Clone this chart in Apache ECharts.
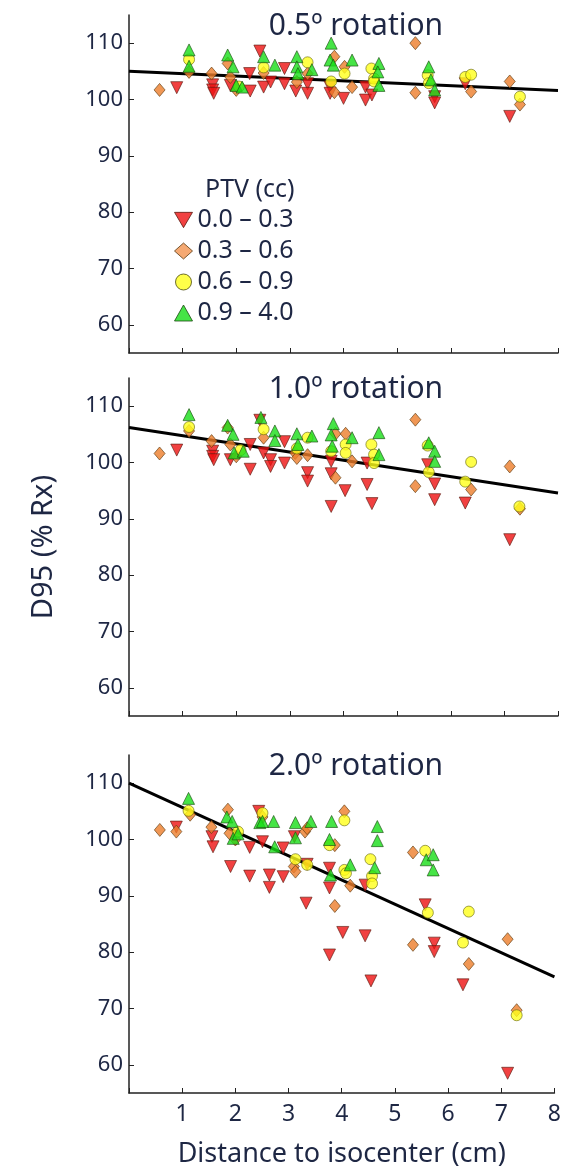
<!DOCTYPE html>
<html>
<head>
<meta charset="utf-8">
<script src="https://cdn.jsdelivr.net/npm/echarts@6/dist/echarts.min.js"></script>
<style>
	html, body { margin: 0; padding: 0; background: #fff; }
	#chart { width: 564px; height: 1171px; }
</style>
</head>
<body>
<div id="chart"></div>
<script>
// panel titles, legend names, ticks
var panelTitles = ['0.5º rotation', '1.0º rotation', '2.0º rotation'];
var ptvNames = ['0.0 – 0.3', '0.3 – 0.6', '0.6 – 0.9', '0.9 – 4.0'];
var yTicks = [60, 70, 80, 90, 100, 110];

// 0.5 deg rotation  [distance cm, D95 %Rx]
var rot05Red = [[0.89,102.1],[1.56,102.6],[1.56,101.7],[1.58,101.1],[1.89,102.5],[2.25,104.6],[2.26,101.5],[2.44,108.6],[2.51,102.2],[2.64,103.1],[2.90,105.5],[2.90,102.8],[3.11,101.5],[3.33,102.8],[3.33,101.1],[3.75,102.2],[3.75,101.1],[4.00,100.2],[4.41,102.2],[4.41,99.9],[4.53,100.8],[5.70,100.5],[5.70,99.4],[6.27,102.8],[7.10,97.0]];
var rot05Orange = [[0.57,101.7],[1.12,104.9],[1.54,104.6],[1.84,106.4],[1.89,104.0],[2.00,101.7],[2.51,104.7],[3.13,103.1],[3.33,104.6],[3.83,107.6],[3.83,101.3],[4.02,105.8],[4.16,102.2],[5.34,110.0],[5.34,101.2],[6.38,101.4],[7.10,103.2],[7.29,99.1]];
var rot05Yellow = [[1.12,107.1],[2.05,102.3],[2.51,105.7],[3.33,106.6],[3.77,103.2],[4.02,104.6],[4.52,105.5],[4.57,103.7],[4.57,103.2],[5.57,104.3],[5.59,102.9],[6.27,104.0],[6.38,104.4],[7.29,100.5]];
var rot05Green = [[1.12,108.8],[1.12,105.9],[1.84,107.9],[1.94,105.8],[2.00,102.5],[2.11,102.2],[2.51,107.6],[2.72,106.1],[3.13,107.6],[3.13,105.8],[3.15,104.6],[3.41,105.3],[3.77,110.0],[3.75,107.0],[3.81,106.1],[4.16,107.0],[4.66,106.4],[4.64,104.9],[4.66,102.5],[5.59,105.8],[5.63,103.5],[5.70,101.7]];
var rot05Fit = [[0, 105.0], [8, 101.6]];

// 1.0 deg rotation
var rot10Red = [[0.89,102.2],[1.56,102.0],[1.56,101.1],[1.58,100.5],[1.89,100.5],[2.26,103.2],[2.26,98.8],[2.44,107.5],[2.51,101.7],[2.64,100.5],[2.64,99.3],[2.90,103.7],[2.90,99.9],[3.33,98.2],[3.33,96.7],[3.77,100.2],[3.77,98.0],[3.77,92.2],[4.03,95.0],[4.44,99.9],[4.44,96.1],[4.53,92.7],[5.57,99.6],[5.70,96.2],[5.70,93.4],[6.27,92.8],[7.10,86.3]];
var rot10Orange = [[0.57,101.6],[1.12,105.6],[1.54,103.8],[1.84,106.2],[1.89,103.2],[2.00,101.1],[2.51,104.4],[3.10,101.7],[3.13,100.8],[3.33,101.3],[3.85,105.1],[3.85,97.3],[4.04,105.1],[4.16,100.2],[5.34,107.6],[5.34,95.8],[6.38,95.2],[7.10,99.3],[7.29,91.8]];
var rot10Yellow = [[1.12,106.3],[2.08,102.2],[2.51,105.9],[3.13,102.5],[3.33,104.4],[3.77,102.0],[4.04,103.2],[4.04,101.7],[4.52,103.2],[4.57,101.4],[4.57,99.9],[5.57,103.0],[5.59,98.3],[6.27,96.6],[6.38,100.1],[7.28,92.2]];
var rot10Green = [[1.12,108.5],[1.84,106.6],[1.94,105.0],[1.96,101.7],[2.13,102.0],[2.46,108.0],[2.72,105.6],[2.72,103.9],[3.13,105.1],[3.15,103.2],[3.41,104.7],[3.81,106.9],[3.77,104.9],[3.79,102.9],[4.16,104.4],[4.66,105.3],[4.66,101.4],[5.59,103.5],[5.70,102.0],[5.70,100.2]];
var rot10Fit = [[0, 106.2], [8, 94.6]];

// 2.0 deg rotation
var rot20Red = [[0.89,102.2],[1.56,100.5],[1.58,98.7],[1.91,95.2],[2.27,98.6],[2.27,93.5],[2.44,105.0],[2.51,99.6],[2.64,93.7],[2.64,91.5],[2.90,98.5],[2.90,93.4],[3.11,100.5],[3.35,95.6],[3.33,88.7],[3.77,94.9],[3.77,91.4],[3.77,79.5],[4.02,83.5],[4.44,91.9],[4.44,82.9],[4.55,74.9],[5.57,88.4],[5.74,81.6],[5.74,80.1],[6.28,74.2],[7.12,58.5]];
var rot20Orange = [[0.58,101.7],[0.89,101.4],[1.15,104.4],[1.55,102.2],[1.86,105.3],[1.89,101.1],[2.00,100.0],[2.51,104.0],[3.10,95.2],[3.13,94.3],[3.31,101.4],[3.35,102.0],[3.87,99.0],[3.87,88.2],[4.05,105.0],[4.16,91.8],[5.34,97.7],[5.34,81.3],[6.39,77.9],[7.12,82.3],[7.29,69.7]];
var rot20Yellow = [[1.12,105.1],[2.05,101.4],[2.51,104.7],[3.13,96.5],[3.35,95.5],[3.77,99.0],[4.05,103.4],[4.05,94.6],[4.08,94.0],[4.54,96.5],[4.57,93.5],[4.57,92.2],[5.57,98.0],[5.62,87.0],[6.28,81.7],[6.39,87.2],[7.29,68.8]];
var rot20Green = [[1.12,107.3],[1.84,104.0],[1.94,103.2],[1.96,100.2],[2.05,101.0],[2.46,103.0],[2.51,103.2],[2.72,103.2],[2.74,98.7],[3.13,103.0],[3.13,100.3],[3.42,103.2],[3.81,103.2],[3.77,100.0],[3.79,93.7],[4.16,95.5],[4.67,102.3],[4.67,99.8],[4.62,95.0],[5.59,96.4],[5.72,97.3],[5.72,94.6]];
var rot20Fit = [[0, 110.0], [8, 75.6]];

var panels = [
	{ red: rot05Red, orange: rot05Orange, yellow: rot05Yellow, green: rot05Green, fit: rot05Fit },
	{ red: rot10Red, orange: rot10Orange, yellow: rot10Yellow, green: rot10Green, fit: rot10Fit },
	{ red: rot20Red, orange: rot20Orange, yellow: rot20Yellow, green: rot20Green, fit: rot20Fit }
];

var FONT = 'Noto Sans';
var TXT = '#1e2744';
var gridTops = [15, 378, 755];
var gridH = 338;
var downTri = 'path://M0,0 L20,0 L10,17 Z';

var grids = [], xAxes = [], yAxes = [], series = [], titles = [];

panels.forEach(function (p, i) {
	grids.push({ left: 129, width: 429, top: gridTops[i], height: gridH });
	xAxes.push({
		gridIndex: i, type: 'value', min: 0, max: 8, interval: 1,
		name: i === 2 ? 'Distance to isocenter (cm)' : '',
		nameLocation: 'middle', nameGap: 48,
		nameTextStyle: { fontFamily: FONT, fontSize: 27, color: TXT },
		axisLine: { lineStyle: { color: '#222', width: 1.5 } },
		axisTick: { inside: true, length: 5, lineStyle: { color: '#222' } },
		axisLabel: { show: i === 2, fontFamily: FONT, fontSize: 23, color: TXT, margin: 10,
			formatter: function (v) { return v === 0 ? '' : v; } },
		splitLine: { show: false }
	});
	yAxes.push({
		gridIndex: i, type: 'value', min: 55, max: 115,
		name: i === 1 ? 'D95 (% Rx)' : '',
		nameLocation: 'middle', nameRotate: 90, nameGap: 71,
		nameTextStyle: { fontFamily: FONT, fontSize: 29, color: TXT },
		axisLine: { lineStyle: { color: '#222', width: 1.5 } },
		axisTick: { inside: true, length: 5, customValues: yTicks, lineStyle: { color: '#222' } },
		axisLabel: { fontFamily: FONT, fontSize: 22, color: TXT, margin: 6, customValues: yTicks },
		splitLine: { show: false }
	});
	titles.push({
		text: panelTitles[i], left: 351, top: gridTops[i] - 9, textAlign: 'center',
		textStyle: { fontFamily: FONT, fontSize: 30, fontWeight: 'normal', color: TXT }
	});

	series.push({
		type: 'line', xAxisIndex: i, yAxisIndex: i, data: p.fit, showSymbol: false,
		lineStyle: { color: '#000', width: 3 }, z: 1, silent: true
	});
	series.push({
		name: ptvNames[0], type: 'scatter', xAxisIndex: i, yAxisIndex: i, data: p.red,
		symbol: 'triangle', symbolRotate: 180, symbolSize: 12,
		itemStyle: { color: '#ee1111', borderColor: '#5a1a10', borderWidth: 0.8 }, z: 2
	});
	series.push({
		name: ptvNames[1], type: 'scatter', xAxisIndex: i, yAxisIndex: i, data: p.orange,
		symbol: 'diamond', symbolSize: [11, 13],
		itemStyle: { color: '#ec7d2a', borderColor: '#5a3a10', borderWidth: 0.8 }, z: 3
	});
	series.push({
		name: ptvNames[2], type: 'scatter', xAxisIndex: i, yAxisIndex: i, data: p.yellow,
		symbol: 'circle', symbolSize: 11,
		itemStyle: { color: '#ffff1a', borderColor: '#6a6a10', borderWidth: 0.8 }, z: 4
	});
	series.push({
		name: ptvNames[3], type: 'scatter', xAxisIndex: i, yAxisIndex: i, data: p.green,
		symbol: 'triangle', symbolSize: 12,
		itemStyle: { color: '#18dd18', borderColor: '#1a4a10', borderWidth: 0.8 }, z: 5
	});
});

// legend heading
titles.push({
	text: 'PTV (cc)', left: 200, top: 172,
	textStyle: { fontFamily: FONT, fontSize: 25, fontWeight: 'normal', color: TXT }
});

var chart = echarts.init(document.getElementById('chart'), null, { renderer: 'canvas' });
chart.setOption({
	backgroundColor: '#fff',
	animation: false,
	title: titles,
	legend: {
		data: [
			{ name: ptvNames[0], icon: downTri, itemStyle: { color: '#ee1111', borderColor: '#5a1a10', borderWidth: 1 } },
			{ name: ptvNames[1], icon: 'diamond', itemStyle: { color: '#f29350', borderColor: '#5a3a10', borderWidth: 1 } },
			{ name: ptvNames[2], icon: 'circle', itemStyle: { color: '#ffff1a', borderColor: '#4a4a10', borderWidth: 1 } },
			{ name: ptvNames[3], icon: 'triangle', itemStyle: { color: '#18dd18', borderColor: '#1a4a10', borderWidth: 1 } }
		],
		orient: 'vertical', left: 169, top: 201,
		itemWidth: 18, itemHeight: 16, itemGap: 3,
		selectedMode: false,
		textStyle: { fontFamily: FONT, fontSize: 25, color: TXT, padding: [0, 0, 0, 0], lineHeight: 28 }
	},
	grid: grids,
	xAxis: xAxes,
	yAxis: yAxes,
	series: series
});
</script>
</body>
</html>
